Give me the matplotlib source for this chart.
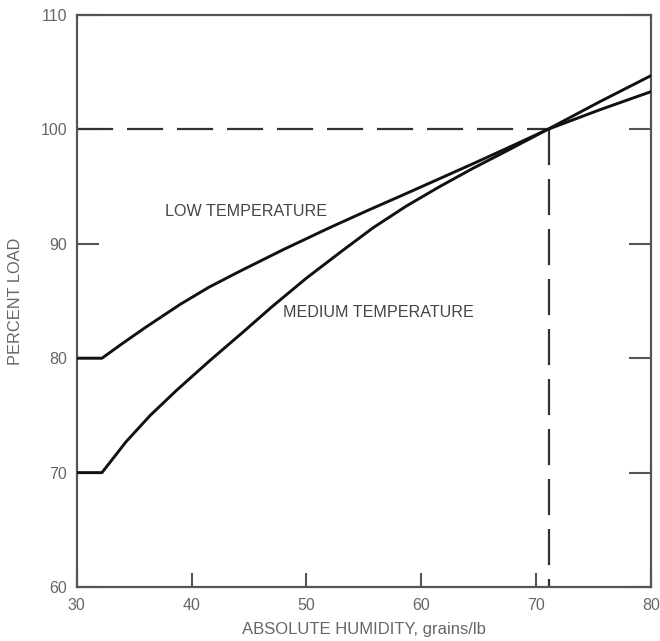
import matplotlib
matplotlib.use("Agg")
import matplotlib.pyplot as plt

plt.rcParams['font.family'] = ['Liberation Sans', 'DejaVu Sans']
plt.rcParams['lines.scale_dashes'] = False

# values
low_x = [30, 32.2, 34, 36, 39, 41.5, 44.2, 48, 52, 55.3, 58.7, 61.6, 64.5, 68, 71, 75.5, 80]
low_y = [80, 80, 81.3, 82.7, 84.7, 86.2, 87.6, 89.5, 91.4, 92.9, 94.4, 95.7, 97.0, 98.6, 100, 101.7, 103.3]

med_x = [30, 32.2, 34.3, 36.4, 38.7, 41.6, 44.5, 47, 50, 53, 55.8, 58.7, 61.6, 64.5, 67.4, 71, 75.5, 80]
med_y = [70, 70, 72.7, 75.0, 77.2, 79.8, 82.3, 84.5, 87.0, 89.3, 91.4, 93.3, 95.0, 96.6, 98.1, 100, 102.4, 104.7]

ref_x = 71.1
ref_y = 100

x_ticks = [30, 40, 50, 60, 70, 80]
y_ticks = [60, 70, 80, 90, 100, 110]

ink = "#111111"
axis_col = "#555555"
text_col = "#666666"

fig = plt.figure(figsize=(6.6, 6.41), dpi=100)
ax = fig.add_axes([0.1162, 0.0842, 0.8702, 0.8924])

ax.plot(low_x, low_y, color=ink, lw=2.1, solid_joinstyle="round", zorder=3)
ax.plot(med_x, med_y, color=ink, lw=2.1, solid_joinstyle="round", zorder=3)

ax.plot([30, ref_x], [ref_y, ref_y], color="#333333", lw=1.6, dashes=[26, 10], zorder=2)
ax.plot([ref_x, ref_x], [ref_y, 60], color="#333333", lw=1.6, dashes=[26, 10], zorder=2)

ax.text(37.7, 92.8, "LOW TEMPERATURE", fontsize=11.6, color="#444444", va="center")
ax.text(48.0, 84.0, "MEDIUM TEMPERATURE", fontsize=11.6, color="#444444", va="center")

ax.set_xlim(30, 80)
ax.set_ylim(60, 110)
ax.set_xticks(x_ticks)
ax.set_yticks(y_ticks)

for s in ax.spines.values():
    s.set_color(axis_col)
    s.set_linewidth(1.6)

ax.tick_params(axis="x", direction="in", length=10, width=1.5, color=axis_col,
               labelsize=11.5, labelcolor=text_col, pad=8)
ax.tick_params(axis="y", direction="in", length=16, width=1.5, color=axis_col,
               labelsize=11.5, labelcolor=text_col, pad=7, right=True)

ax.set_xlabel("ABSOLUTE HUMIDITY, grains/lb", fontsize=12, color=text_col)
ax.set_ylabel("PERCENT LOAD", fontsize=11.8, color=text_col)
ax.xaxis.set_label_coords(0.5, -0.061)
ax.yaxis.set_label_coords(-0.094, 0.5)

fig.savefig("out.png", dpi=100)
